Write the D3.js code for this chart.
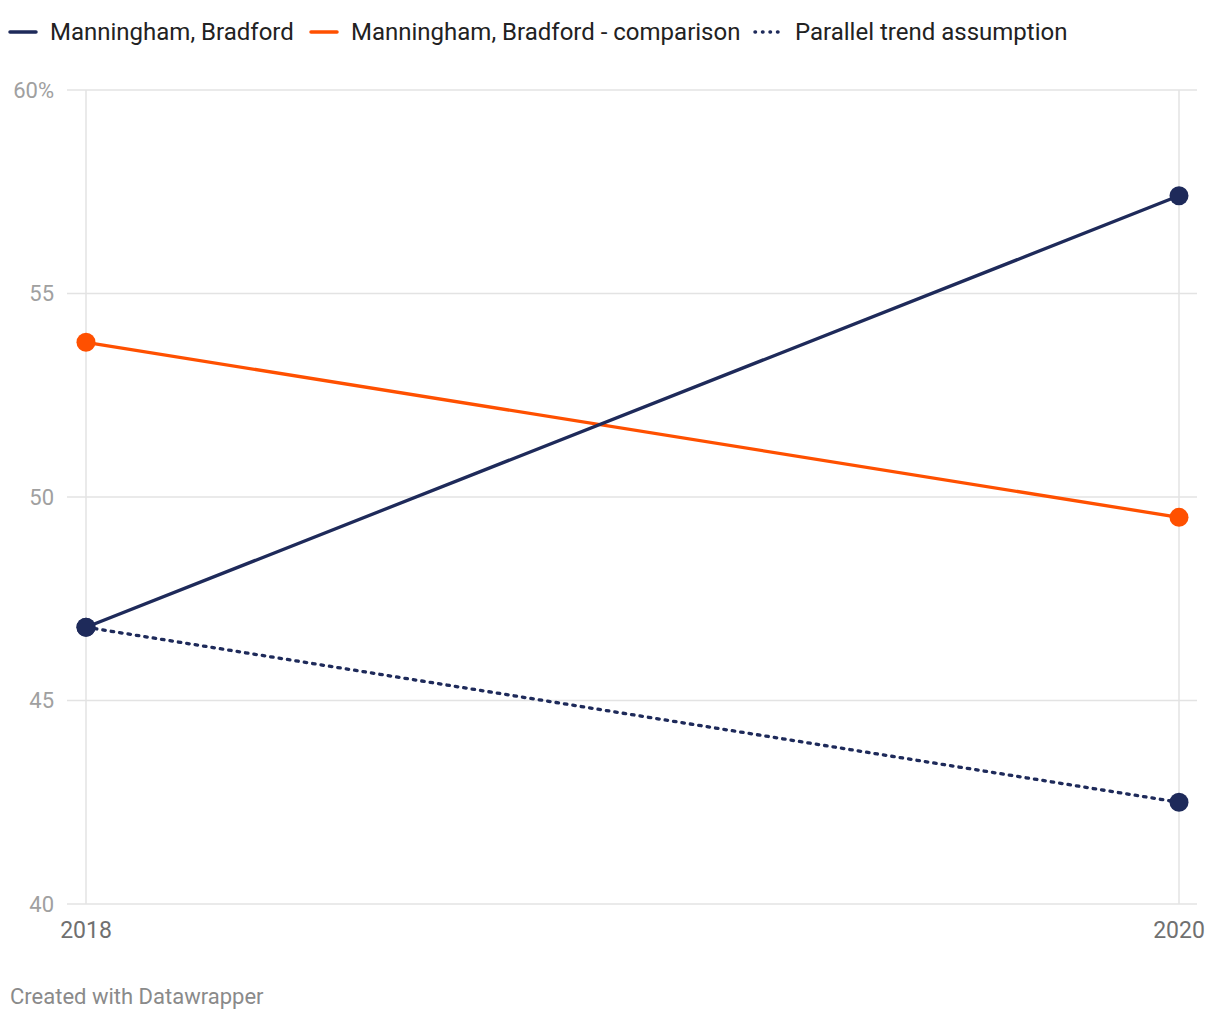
<!DOCTYPE html>
<html><head><meta charset="utf-8">
<script src="https://cdn.jsdelivr.net/npm/d3@7"></script>
<style>
body{margin:0;background:#fff;font-family:Roboto,"Noto Sans",sans-serif;}
</style></head>
<body><svg id="c" width="1220" height="1020"></svg>
<script>
const years = ["2018", "2020"];
const seriesNames = ["Manningham, Bradford", "Manningham, Bradford - comparison", "Parallel trend assumption"];
const manningham = [46.8, 57.4];
const comparison = [53.8, 49.5];
const parallel = [46.8, 42.5];
const yTicks = [40, 45, 50, 55, 60];
const colors = ["#1e2a5a", "#ff5000", "#1e2a5a"];

const svg = d3.select("#c");
const x = d3.scalePoint().domain(years).range([86, 1179]);
const y = d3.scaleLinear().domain([40, 60]).range([904, 90]);

svg.append("g").selectAll("line").data(yTicks).join("line")
  .attr("x1", 67).attr("x2", 1197)
  .attr("y1", d => y(d)).attr("y2", d => y(d))
  .attr("stroke", "#e3e3e3").attr("stroke-width", 1.5);
svg.append("g").selectAll("line").data(years).join("line")
  .attr("x1", d => x(d)).attr("x2", d => x(d))
  .attr("y1", y(60)).attr("y2", y(40))
  .attr("stroke", "#e3e3e3").attr("stroke-width", 1.5);

svg.append("g").selectAll("text").data(yTicks).join("text")
  .attr("x", 54).attr("y", d => y(d)).attr("dy", "0.35em")
  .attr("text-anchor", "end").attr("fill", "#a0a0a0")
  .attr("font-size", 22)
  .text(d => d === 60 ? "60%" : d);
svg.append("g").selectAll("text").data(years).join("text")
  .attr("x", d => x(d)).attr("y", 938)
  .attr("text-anchor", "middle")
  .attr("fill", "#707070").attr("font-size", 23)
  .text(d => d);

const data = [
  {vals: manningham, color: colors[0], dash: null},
  {vals: comparison, color: colors[1], dash: null},
  {vals: parallel, color: colors[2], dash: "2.5,6"}
];
const line = d3.line().x((d, i) => x(years[i])).y(d => y(d));
[data[2], data[1], data[0]].forEach(s => {
  svg.append("path").datum(s.vals).attr("d", line)
    .attr("fill", "none").attr("stroke", s.color)
    .attr("stroke-width", 3.3)
    .attr("stroke-linecap", "round")
    .attr("stroke-dasharray", s.dash);
  svg.append("g").selectAll("circle").data(s.vals).join("circle")
    .attr("cx", (d, i) => x(years[i])).attr("cy", d => y(d))
    .attr("r", 9.5).attr("fill", s.color);
});

const legX = [10, 311, 755];
const lg = svg.append("g");
seriesNames.forEach((n, i) => {
  lg.append("line").attr("x1", legX[i]).attr("x2", legX[i] + 26)
    .attr("y1", 32).attr("y2", 32)
    .attr("stroke", colors[i]).attr("stroke-width", 3.5)
    .attr("stroke-linecap", "round")
    .attr("stroke-dasharray", i === 2 ? "0.5,7" : null);
  lg.append("text").attr("x", legX[i] + 40).attr("y", 32).attr("dy", "0.35em")
    .attr("font-size", 24).attr("fill", "#222").text(n);
});

svg.append("text").attr("x", 10).attr("y", 1004)
  .attr("font-size", 22).attr("fill", "#8a8a8a").text("Created with Datawrapper");
</script></body></html>
